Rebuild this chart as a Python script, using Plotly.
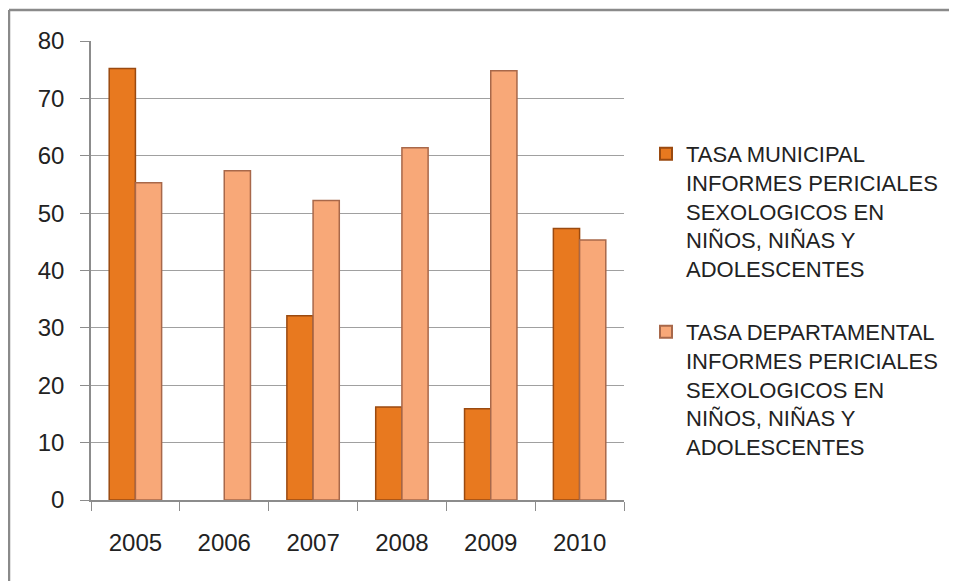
import plotly.graph_objects as go

years = ["2005", "2006", "2007", "2008", "2009", "2010"]
municipal = [75.2, None, 32.1, 16.2, 15.9, 47.3]
departamental = [55.3, 57.4, 52.2, 61.4, 74.8, 45.3]
name_mun = "TASA MUNICIPAL<br>INFORMES PERICIALES<br>SEXOLOGICOS EN<br>NIÑOS, NIÑAS Y<br>ADOLESCENTES"
name_dep = "TASA DEPARTAMENTAL<br>INFORMES PERICIALES<br>SEXOLOGICOS EN<br>NIÑOS, NIÑAS Y<br>ADOLESCENTES"
y_ticks = [0, 10, 20, 30, 40, 50, 60, 70, 80]

OFF = 8  # page body margin
W, H = 957 - OFF, 581 - OFF
L, R, T, B = 91 - OFF, 624 - OFF, 41 - OFF, 500 - OFF

fig = go.Figure()
fig.add_trace(go.Bar(
    x=years, y=municipal, name=name_mun, legendgroup="m",
    marker=dict(color="#E8791F", line=dict(color="#9A4A10", width=1.5)),
))
fig.add_trace(go.Bar(
    x=years, y=departamental, name=name_dep, legendgroup="d",
    marker=dict(color="#F8A878", line=dict(color="#A8684A", width=1.5)),
))

fnt = "Liberation Sans, Arial, sans-serif"
px = lambda x: (x - OFF - L) / (R - L)
py = lambda y: (B - (y - OFF)) / (B - T)

fig.update_layout(
    width=W, height=H,
    margin=dict(l=L, r=W - R, t=T, b=H - B),
    paper_bgcolor="white", plot_bgcolor="white",
    barmode="group", bargap=0.41, bargroupgap=0,
    font=dict(family=fnt, size=22, color="#222222"),
    showlegend=True,
    legend=dict(
        x=px(646), xanchor="left",
        y=py(133), yanchor="top",
        font=dict(family=fnt, size=22, color="#222222"),
        tracegroupgap=32, itemsizing="constant", valign="top",
        bgcolor="rgba(0,0,0,0)",
    ),
    xaxis=dict(
        type="category", showgrid=False,
        showline=True, linecolor="#8C8C8C", linewidth=1.5,
        ticks="outside", tickson="boundaries", ticklen=9, tickcolor="#8C8C8C",
        tickfont=dict(family=fnt, size=24, color="#222222"),
        ticklabelstandoff=20,
    ),
    yaxis=dict(
        range=[0, 80], tickvals=y_ticks,
        showgrid=True, gridcolor="#A0A0A0", gridwidth=1,
        showline=True, linecolor="#8C8C8C", linewidth=1.5,
        ticks="outside", ticklen=9, tickcolor="#8C8C8C",
        tickfont=dict(family=fnt, size=24, color="#222222"),
        ticklabelstandoff=11, zeroline=False,
    ),
)

# outer chart frame (top and left edges)
fig.add_shape(type="line", xref="paper", yref="paper",
              x0=px(9), y0=py(10), x1=px(970), y1=py(10),
              line=dict(color="#8A8A8A", width=2.5))
fig.add_shape(type="line", xref="paper", yref="paper",
              x0=px(9), y0=py(10), x1=px(9), y1=py(600),
              line=dict(color="#8A8A8A", width=2.5))

fig.write_html("out.html")
